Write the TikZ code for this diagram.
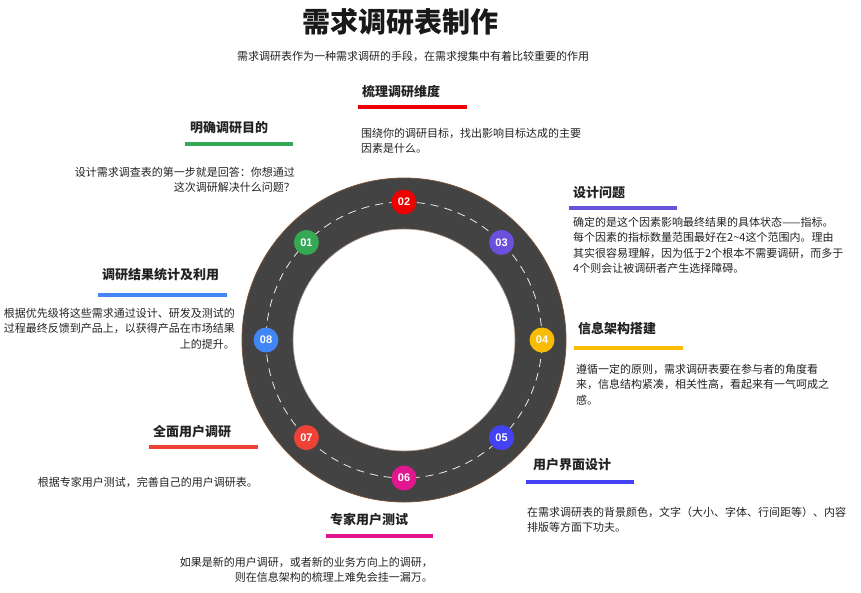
\documentclass[tikz,border=0pt]{standalone}
\usepackage{fontspec}
\setmainfont{Noto Sans CJK SC}
\newfontfamily\numfont{Liberation Sans}
\usepackage{xcolor}
\usepackage{tikz}
\definecolor{strasse}{HTML}{434343}
\definecolor{rand}{HTML}{7A5238}
\definecolor{schrift}{HTML}{222222}
\definecolor{gruen}{HTML}{34A853}
\definecolor{rot}{HTML}{EE0000}
\definecolor{lila}{HTML}{6A50DC}
\definecolor{gelb}{HTML}{F9BC06}
\definecolor{blau}{HTML}{4343F5}
\definecolor{magenta}{HTML}{E2168E}
\definecolor{orangerot}{HTML}{EE4236}
\definecolor{hellblau}{HTML}{4285F4}

\begin{document}
\begin{tikzpicture}[x=1pt, y=-1pt,
    heading/.style={font=\fontsize{13}{15}\selectfont\bfseries, text=schrift, inner sep=0pt, anchor=west},
    body/.style={font=\fontsize{11}{15.5}\selectfont, text=schrift, inner sep=0pt},
    bar/.style={line width=4pt},
    badge/.style={circle, minimum size=25pt, inner sep=0pt, text=white, font=\numfont\fontsize{11}{11}\selectfont\bfseries}]
    \useasboundingbox (0,0) rectangle (861,592);

    % Title
    \node[font=\fontsize{28}{30}\selectfont\bfseries, text=black!90, inner sep=0pt] (titel) at (400,22) {需求调研表制作};
    \node[body] (untertitel) at (413,56) {需求调研表作为一种需求调研的手段，在需求搜集中有着比较重要的作用};

    % Road ring
    \coordinate (mitte) at (404,340);
    \fill[strasse, even odd rule] (mitte) circle (162pt) (mitte) circle (111pt);
    \draw[rand, line width=0.8pt] (mitte) circle (162pt);
    \draw[rand!60, line width=0.6pt] (mitte) circle (111pt);

    % Dashed centre line
    \draw[white!85!gray, line width=0.8pt, dash pattern=on 8pt off 6pt] (mitte) circle (138pt);

    % Badges
    \node[badge, fill=gruen] (n01) at ([shift={(135:138pt)}]mitte) {01};
    \node[badge, fill=rot] (n02) at ([shift={(90:138pt)}]mitte) {02};
    \node[badge, fill=lila] (n03) at ([shift={(45:138pt)}]mitte) {03};
    \node[badge, fill=gelb] (n04) at ([shift={(0:138pt)}]mitte) {04};
    \node[badge, fill=blau] (n05) at ([shift={(-45:138pt)}]mitte) {05};
    \node[badge, fill=magenta] (n06) at ([shift={(-90:138pt)}]mitte) {06};
    \node[badge, fill=orangerot] (n07) at ([shift={(-135:138pt)}]mitte) {07};
    \node[badge, fill=hellblau] (n08) at ([shift={(180:138pt)}]mitte) {08};

    % 01
    \node[heading] (t01) at (190,128) {明确调研目的};
    \draw[bar, gruen] (185,144) -- (293,144);
    \node[body, anchor=north east, align=right] (b01) at (295,165.4)
        {\strut 设计需求调查表的第一步就是回答：你想通过\\这次调研解决什么问题？};

    % 02
    \node[heading] (t02) at (362,92) {梳理调研维度};
    \draw[bar, rot] (358,107) -- (467,107);
    \node[body, anchor=north west, align=left] (b02) at (361,126)
        {\strut 围绕你的调研目标，找出影响目标达成的主要\\因素是什么。};

    % 03
    \node[heading] (t03) at (573,193) {设计问题};
    \draw[bar, lila] (569,208) -- (677,208);
    \node[body, anchor=north west, align=left] (b03) at (573,215.4)
        {\strut 确定的是这个因素影响最终结果的具体状态——指标。\\
         每个因素的指标数量范围最好在2\textasciitilde 4这个范围内。理由\\
         其实很容易理解，因为低于2个根本不需要调研，而多于\\
         4个则会让被调研者产生选择障碍。};

    % 04
    \node[heading] (t04) at (578,329) {信息架构搭建};
    \draw[bar, gelb] (574,348) -- (683,348);
    \node[body, anchor=north west, align=left] (b04) at (576,362.4)
        {\strut 遵循一定的原则，需求调研表要在参与者的角度看\\
         来，信息结构紧凑，相关性高，看起来有一气呵成之\\
         感。};

    % 05
    \node[heading] (t05) at (533,465) {用户界面设计};
    \draw[bar, blau] (526,482) -- (634,482);
    \node[body, anchor=north west, align=left] (b05) at (527,505.4)
        {\strut 在需求调研表的背景颜色，文字（大小、字体、行间距等）、内容\\
         排版等方面下功夫。};

    % 06
    \node[heading] (t06) at (330,520) {专家用户测试};
    \draw[bar, magenta] (326,536) -- (433,536);
    \node[body, anchor=north east, align=right] (b06) at (433,555.4)
        {\strut 如果是新的用户调研，或者新的业务方向上的调研，\\
         则在信息架构的梳理上难免会挂一漏万。};

    % 07
    \node[heading] (t07) at (153,432) {全面用户调研};
    \draw[bar, orangerot] (149,447) -- (258,447);
    \node[body, anchor=north east, align=right] (b07) at (258,475.4)
        {\strut 根据专家用户测试，完善自己的用户调研表。};

    % 08
    \node[heading] (t08) at (102,275) {调研结果统计及利用};
    \draw[bar, hellblau] (98,295) -- (227,295);
    \node[body, anchor=north east, align=right] (b08) at (235,306.4)
        {\strut 根据优先级将这些需求通过设计、研发及测试的\\
         过程最终反馈到产品上，以获得产品在市场结果\\
         上的提升。};
\end{tikzpicture}
\end{document}
